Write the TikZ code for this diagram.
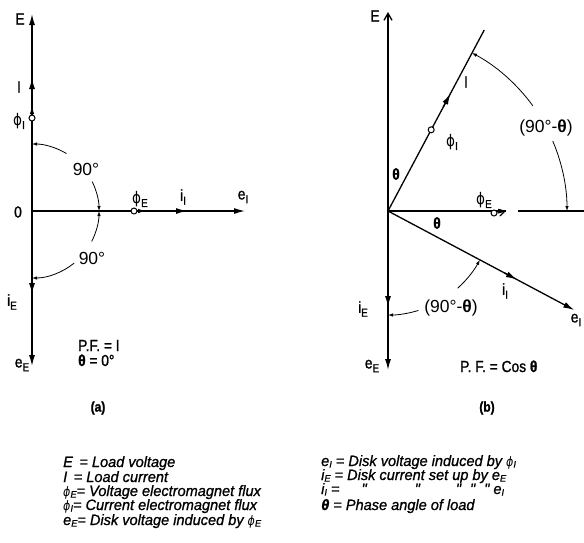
\documentclass[tikz,border=0pt]{standalone}
\usepackage{fontspec}
\setmainfont{Liberation Sans}[FakeStretch=0.86,FakeBold=1.2]
\newfontfamily\legf{Liberation Sans}[FakeStretch=0.97,FakeBold=1.0]
\newfontfamily\angf{Liberation Sans}
\newfontfamily\gr{DejaVu Sans}[FakeStretch=0.85]
\usetikzlibrary{arrows.meta,calc}
\newcommand\ph{{\gr ϕ}}
\newcommand\lo[1]{\raisebox{-0.45ex}{\fontsize{11.5}{10}\selectfont #1}}
\newcommand\ls[1]{\raisebox{-0.2ex}{\fontsize{9.5}{9}\selectfont #1}}
\newcommand\lph{{\gr\fontsize{13}{13}\selectfont ϕ}}
\newcommand\thb{{\bfseries θ}}
\begin{document}
\begin{tikzpicture}[x=1pt,y=-1pt,
  vec/.style={line width=1.3pt},
  ftip/.style={-{Latex[length=11pt,width=6pt]}, line width=1.3pt},
  mtip/.style={-{Latex[length=8pt,width=4.5pt]}, line width=1.1pt},
  stip/.style={-{Latex[length=5pt,width=3.5pt]}, line width=0.8pt},
  arcl/.style={line width=0.8pt},
  otip/.style={-{Straight Barb[length=6pt,width=7pt]}, line width=1.2pt},
  lab/.style={inner sep=0pt, font=\fontsize{16}{18}\selectfont},
  alab/.style={inner sep=0pt, font=\angf\fontsize{17.5}{19}\selectfont},
  leg/.style={inner sep=0pt, anchor=base west, font=\legf\fontsize{15}{17}\selectfont\itshape},
  phimark/.style={circle, draw, fill=white, line width=1pt, minimum size=6pt, inner sep=0pt}
]
\useasboundingbox (0,0) rectangle (584,542);
% ---------------- (a) ----------------
\coordinate (O1) at (32,211);
\coordinate (E1) at (32,14);
\coordinate (B1) at (32,366);
\coordinate (R1) at (245,211);
\draw[ftip] (O1) -- (E1);
\draw[ftip] (O1) -- (B1);
\draw[ftip] (O1) -- (R1);
\coordinate (It1) at (32,78);
\draw[ftip] ($(It1)+(0,14)$) -- (It1);
\coordinate (iEt1) at (32,294);
\draw[ftip] ($(iEt1)+(0,-14)$) -- (iEt1);
\coordinate (iIt1) at (187,211);
\draw[ftip] ($(iIt1)+(-12,0)$) -- (iIt1);
\node[phimark] (pI1) at (32,118) {};
\coordinate (pIt1) at (32,106);
\draw[mtip] (pI1.north) -- (pIt1);
\node[phimark] (pE1) at (134,211) {};
\coordinate (pEt1) at (146,211);
\draw[mtip] (pE1.east) -- (pEt1);
% arcs
\draw[arcl,stip] ($(O1)+(-59:67)$) arc[start angle=-59,end angle=-90,radius=67];
\draw[arcl,stip] ($(O1)+(-26:67)$) arc[start angle=-26,end angle=0,radius=67];
\draw[arcl,stip] ($(O1)+(27:67)$) arc[start angle=27,end angle=0,radius=67];
\draw[arcl,stip] ($(O1)+(51:67)$) arc[start angle=51,end angle=90,radius=67];
% labels
\node[lab] (lE1) at (20,19) {E};
\node[lab] (lI1) at (19,87) {I};
\node[lab] (lpI1) at (19,121) {\ph\lo{I}};
\node[lab] (l01) at (18,212) {0};
\node[alab] (l90a) at (86,169) {90°};
\node[alab] (l90b) at (92,258) {90°};
\node[lab] (lpE1) at (140,199) {\ph\lo{E}};
\node[lab] (liI1) at (183,197) {i\lo{I}};
\node[lab] (leI1) at (243,197) {e\lo{I}};
\node[lab] (liE1) at (12,302) {i\lo{E}};
\node[lab] (leE1) at (22,365) {e\lo{E}};
\node[lab, anchor=base west] (pf1) at (78,351) {P.F. = I};
\node[lab, anchor=base west] (th1) at (78,366) {\thb\ = 0°};
\node[lab, font=\fontsize{14}{16}\selectfont\bfseries] (ca) at (98,408) {(a)};
% ---------------- (b) ----------------
\coordinate (O2) at (388,211);
\coordinate (E2) at (388,12);
\coordinate (B2) at (388,370);
\coordinate (I2) at ($(O2)+(-62:205)$);
\coordinate (eI2) at ($(O2)+(28:211)$);
\coordinate (H2) at (506,211);
\coordinate (Hs2) at (518,211);
\coordinate (He2) at (584,211);
\draw[vec,-{Straight Barb[length=7pt,width=8pt]}] (O2) -- (E2);
\draw[ftip] (O2) -- (B2);
\draw[vec] (O2) -- (I2);
\draw[ftip] (O2) -- (eI2);
\draw[vec] (O2) -- (H2);
\draw[vec] (Hs2) -- (He2);
\coordinate (It2) at ($(O2)+(-62:133)$);
\draw[ftip] ($(O2)+(-62:118)$) -- (It2);
\node[phimark] (pI2) at ($(O2)+(-62:92)$) {};
\coordinate (iIt2) at ($(O2)+(28:146)$);
\draw[ftip] ($(O2)+(28:132)$) -- (iIt2);
\coordinate (iEt2) at (388,307);
\draw[ftip] ($(iEt2)+(0,-14)$) -- (iEt2);
\node[phimark] (pE2) at (494,213) {};
\draw[otip] (pE2.east) -- (H2);
% arcs
\draw[arcl,stip] ($(O2)+(-36:179)$) arc[start angle=-36,end angle=-62,radius=179];
\draw[arcl,stip] ($(O2)+(-23:179)$) arc[start angle=-23,end angle=0,radius=179];
\draw[arcl,stip] ($(O2)+(48:104)$) arc[start angle=48,end angle=28,radius=104];
\draw[arcl,stip] ($(O2)+(73:104)$) arc[start angle=73,end angle=90,radius=104];
% labels
\node[lab] (lE2) at (375,16) {E};
\node[lab] (lth2a) at (396,174) {\thb};
\node[lab] (lpI2) at (452,142) {\ph\lo{I}};
\node[lab] (lI2) at (466,82) {I};
\node[alab] (l90c) at (546,128) {(90°-\thb)};
\node[lab] (lpE2) at (484,200) {\ph\lo{E}};
\node[lab] (lth2b) at (437,223) {\thb};
\node[lab] (liI2) at (505,291) {i\lo{I}};
\node[lab] (leI2) at (576,320) {e\lo{I}};
\node[alab] (l90d) at (451,308) {(90°-\thb)};
\node[lab] (liE2) at (363,309) {i\lo{E}};
\node[lab] (leE2) at (372,366) {e\lo{E}};
\node[lab, anchor=base west] (pf2) at (460,372) {P. F. = Cos \thb};
\node[lab, font=\fontsize{14}{16}\selectfont\bfseries] (cb) at (487,408) {(b)};
% ---------------- legend ----------------
\node[leg] (g1) at (63,467) {E \,= Load voltage};
\node[leg] (g2) at (63,482) {I \,= Load current};
\node[leg] (g3) at (63,496) {\lph\ls{E}= Voltage electromagnet flux};
\node[leg] (g4) at (63,510) {\lph\ls{I}= Current electromagnet flux};
\node[leg] (g5) at (63,525) {e\ls{E}= Disk voltage induced by \lph\ls{E}};
\node[leg] (h1) at (321,466) {e\ls{I} = Disk voltage induced by \lph\ls{I}};
\node[leg] (h2) at (321,480) {i\ls{E} = Disk current set up by e\ls{E}};
\node[leg] (h3) at (321,494) {i\ls{I} = \hspace{1.2em}"\hspace{3.2em}"\hspace{2.4em}"\hspace{0.6em}"\hspace{0.6em}" e\ls{I}};
\node[leg] (h4) at (321,510) {\thb\ = Phase angle of load};
\end{tikzpicture}
\end{document}
